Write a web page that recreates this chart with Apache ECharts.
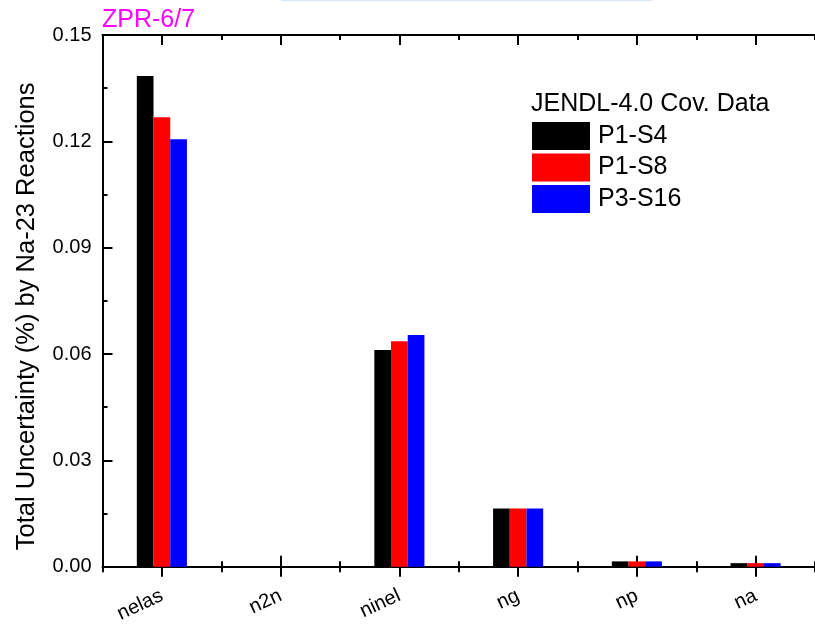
<!DOCTYPE html>
<html>
<head>
<meta charset="utf-8">
<script src="https://cdn.jsdelivr.net/npm/echarts@6/dist/echarts.min.js"></script>
<style>
html,body{margin:0;padding:0;background:#fff;}
#chart{width:815px;height:629px;}
</style>
</head>
<body>
<div id="chart"></div>
<script>
// ---- data ----
const categories = ['nelas', 'n2n', 'ninel', 'ng', 'np', 'na'];
const seriesNames = ['P1-S4', 'P1-S8', 'P3-S16'];
const p1s4 = [0.1384, 0, 0.0611, 0.0164, 0.0015, 0.0010];
const p1s8 = [0.1268, 0, 0.0636, 0.0164, 0.0015, 0.0010];
const p3s16 = [0.1206, 0, 0.0654, 0.0164, 0.0015, 0.0010];
const yTicks = [0, 0.03, 0.06, 0.09, 0.12, 0.15];
const legendTitle = 'JENDL-4.0 Cov. Data';
const panelLabel = 'ZPR-6/7';
const yTitle = 'Total Uncertainty (%) by Na-23 Reactions';

const FONT = "'Liberation Sans', Arial, sans-serif";
const chart = echarts.init(document.getElementById('chart'), null, {renderer: 'canvas'});

function tickAxis(position, opts) {
  return Object.assign({
    type: 'category', data: categories, position: position,
    axisLine: {show: false},
    axisLabel: {show: false, interval: 0},
    splitLine: {show: false}
  }, opts);
}
const lineSt = {color: '#000', width: 2};

const option = {
  animation: false,
  backgroundColor: '#fff',
  textStyle: {fontFamily: FONT},
  grid: {left: 102.5, top: 35, width: 720.6, height: 531.7, containLabel: false},
  legend: {
    data: seriesNames, orient: 'vertical', left: 532, top: 122,
    padding: 0, itemWidth: 58, itemHeight: 28, itemGap: 3.5,
    icon: 'rect', selectedMode: false,
    textStyle: {fontFamily: FONT, fontSize: 25, color: '#000', padding: [0, 0, 0, 3]}
  },
  xAxis: [
    {
      type: 'category', data: categories, position: 'bottom',
      axisLine: {show: true, lineStyle: lineSt},
      axisTick: {show: true, alignWithLabel: true, inside: false, length: 10, interval: 0, lineStyle: lineSt},
      axisLabel: {show: true, interval: 0, rotate: 25, margin: 28, fontSize: 20, color: '#000', fontFamily: FONT},
      splitLine: {show: false}
    },
    tickAxis('bottom', {axisTick: {show: true, alignWithLabel: true, inside: true, length: 11, interval: 0, lineStyle: lineSt}}),
    tickAxis('bottom', {axisTick: {show: true, alignWithLabel: false, inside: false, length: 5.5, interval: 0, lineStyle: lineSt}}),
    tickAxis('bottom', {axisTick: {show: true, alignWithLabel: false, inside: true, length: 5.5, interval: 0, lineStyle: lineSt}}),
    tickAxis('top', {axisLine: {show: true, lineStyle: lineSt}, axisTick: {show: true, alignWithLabel: true, inside: true, length: 10, interval: 0, lineStyle: lineSt}}),
    tickAxis('top', {axisTick: {show: true, alignWithLabel: false, inside: true, length: 5, interval: 0, lineStyle: lineSt}})
  ],
  yAxis: [{
    type: 'value', position: 'left',
    min: yTicks[0], max: yTicks[yTicks.length - 1], interval: yTicks[1] - yTicks[0],
    axisLine: {show: true, lineStyle: lineSt},
    axisTick: {show: true, inside: true, length: 10, lineStyle: lineSt},
    minorTick: {show: true, splitNumber: 2, length: 5, lineStyle: lineSt},
    splitLine: {show: false},
    axisLabel: {fontSize: 20, color: '#000', margin: 11, fontFamily: FONT, formatter: v => v.toFixed(2)},
    name: yTitle, nameLocation: 'middle', nameGap: 63,
    nameTextStyle: {fontSize: 25.5, color: '#000', fontFamily: FONT, padding: [0, 31, 0, 0]}
  }],
  series: [
    {name: seriesNames[0], type: 'bar', data: p1s4, barWidth: 16.7, barGap: '0%', itemStyle: {color: '#000000'}},
    {name: seriesNames[1], type: 'bar', data: p1s8, barWidth: 16.7, barGap: '0%', itemStyle: {color: '#ff0000'}},
    {name: seriesNames[2], type: 'bar', data: p3s16, barWidth: 16.7, barGap: '0%', itemStyle: {color: '#0000ff'}}
  ],
  graphic: [
    {type: 'text', left: 102, top: 8, style: {text: panelLabel, fill: '#ff00ff', font: '25px ' + FONT}},
    {type: 'text', left: 531, top: 92, style: {text: legendTitle, fill: '#000', font: '25px ' + FONT}},
    {type: 'rect', shape: {x: 281, y: 0, width: 371, height: 1}, style: {fill: '#d6e4f4'}}
  ]
};
chart.setOption(option);
</script>
</body>
</html>
